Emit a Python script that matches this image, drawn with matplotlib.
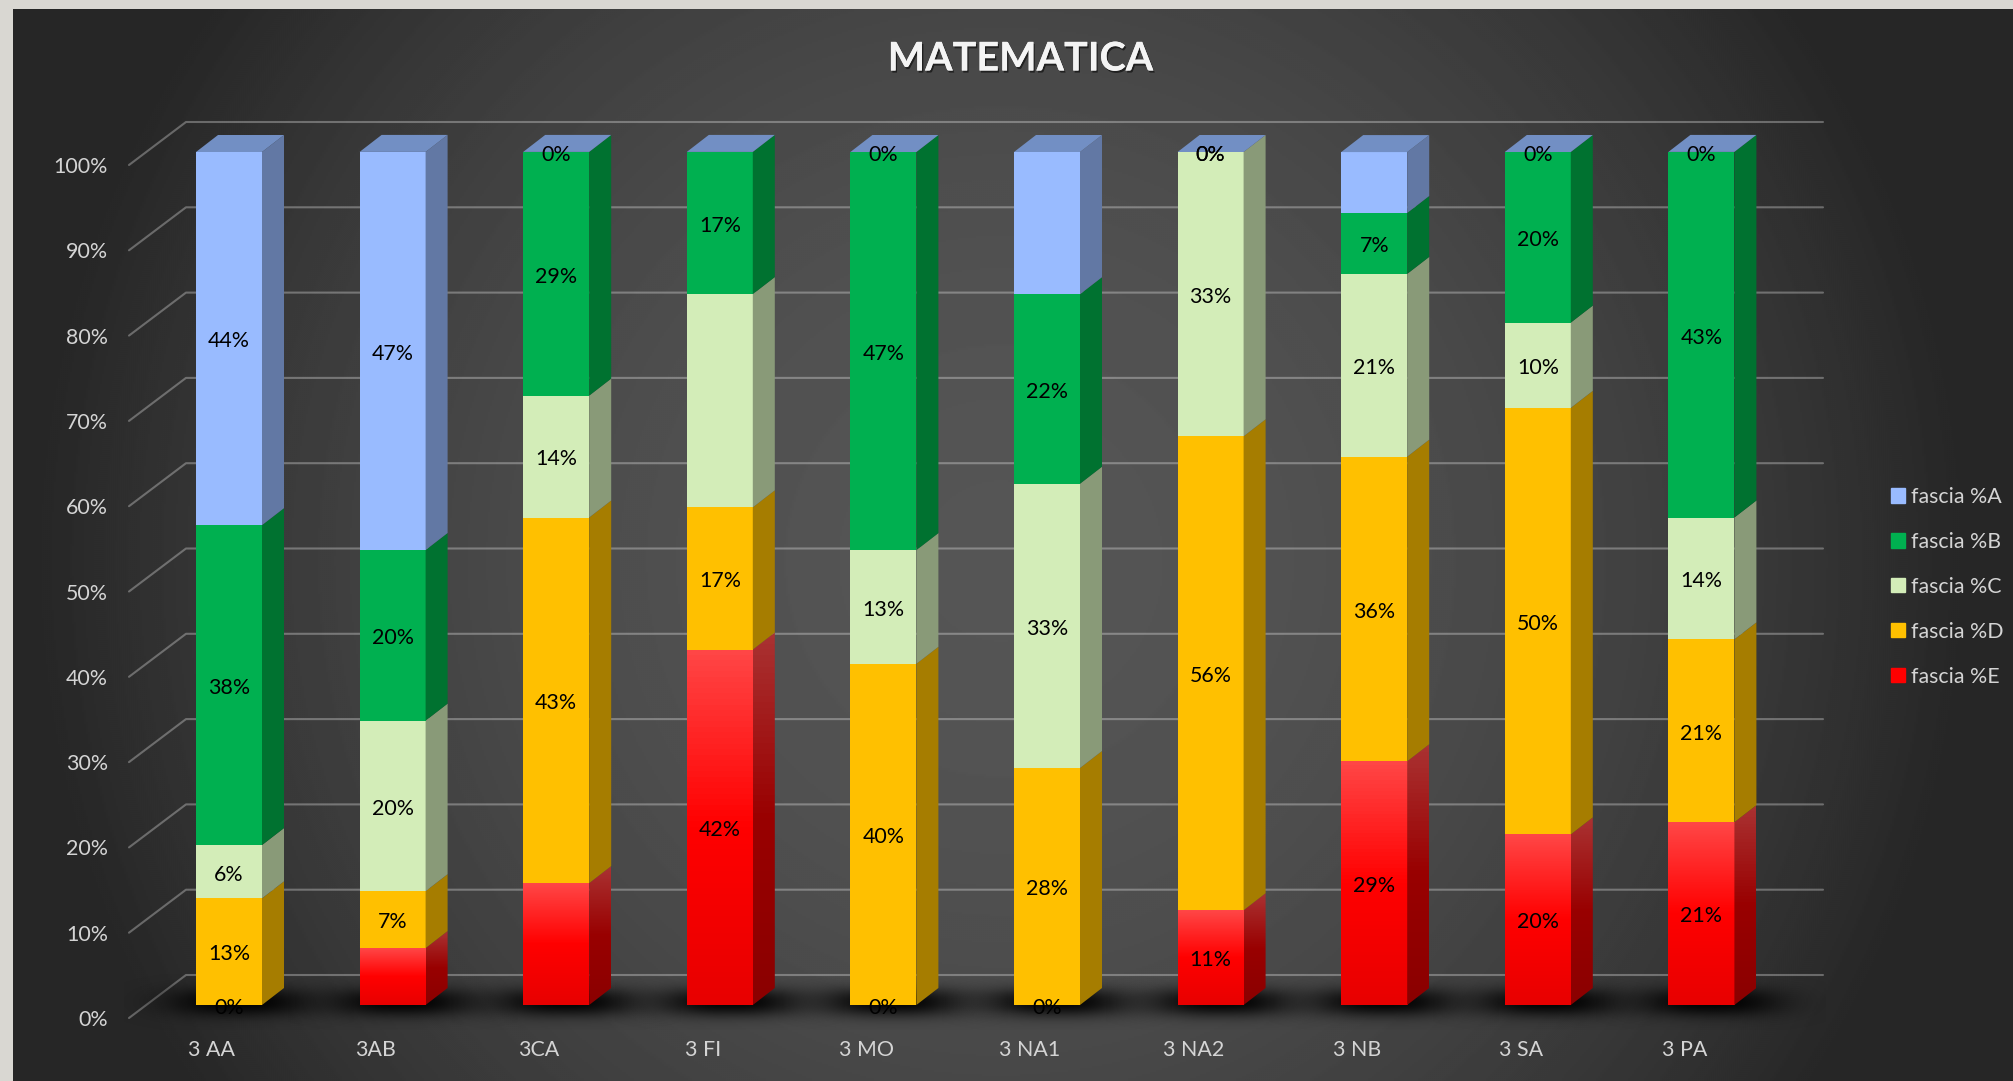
import numpy as np
import matplotlib
matplotlib.use("Agg")
import matplotlib.pyplot as plt
from matplotlib.patches import Patch, Polygon
from matplotlib.transforms import ScaledTranslation
import matplotlib.patheffects as pe

plt.rcParams['font.family'] = ['Lato', 'DejaVu Sans']

# ---------- data ----------
title = "MATEMATICA"
categories = ["3 AA", "3AB", "3CA", "3 FI", "3 MO", "3 NA1", "3 NA2", "3 NB", "3 SA", "3 PA"]
series_names = ["fascia %A", "fascia %B", "fascia %C", "fascia %D", "fascia %E"]
fascia_e = [0, 6.67, 14.29, 41.67, 0, 0, 11.11, 28.57, 20, 21.43]
fascia_d = [12.5, 6.67, 42.86, 16.67, 40, 27.78, 55.56, 35.71, 50, 21.43]
fascia_c = [6.25, 20, 14.29, 25, 13.33, 33.33, 33.33, 21.43, 10, 14.29]
fascia_b = [37.5, 20, 28.57, 16.67, 46.67, 22.22, 0, 7.14, 20, 42.86]
fascia_a = [43.75, 46.67, 0, 0, 0, 16.67, 0, 7.14, 0, 0]
# data labels as they are printed (None = the chart shows no label)
labels_e = ["0%", None, None, "42%", "0%", "0%", "11%", "29%", "20%", "21%"]
labels_d = ["13%", "7%", "43%", "17%", "40%", "28%", "56%", "36%", "50%", "21%"]
labels_c = ["6%", "20%", "14%", None, "13%", "33%", "33%", "21%", "10%", "14%"]
labels_b = ["38%", "20%", "29%", "17%", "47%", "22%", "0%", "7%", "20%", "43%"]
labels_a = ["44%", "47%", "0%", None, "0%", None, "0%", None, "0%", "0%"]
yticks = [0, 10, 20, 30, 40, 50, 60, 70, 80, 90, 100]

# ---------- style ----------
W, H = 2013, 1081
front = {"A": "#99bbff", "B": "#00b050", "C": "#d3edb8", "D": "#ffc000"}
side = {"A": "#6278a4", "B": "#007230", "C": "#899a78", "D": "#a67d00"}
top_col = "#728fc4"
txt_col = "#d4d4d4"
FS = 15.4

fig = plt.figure(figsize=(W / 100, H / 100), dpi=100, facecolor="#d9d7d2")


def rect(l, t, r, b):
    return [l / W, 1 - b / H, (r - l) / W, (b - t) / H]


# background panel
bg = fig.add_axes(rect(13, 9, W, H), zorder=0)
bg.axis("off")
yy, xx = np.mgrid[9:H:2, 13:W:2]
rr2 = ((xx - 1000) / 1000.0) ** 2 + ((yy - 560) / 1000.0) ** 2
val = np.clip(85 - 50 * rr2, 38, 85) / 255
bg.imshow(val, cmap="gray", vmin=0, vmax=1, aspect="auto", interpolation="bilinear")

# main axes: left/right = grid ends, bottom/top = front plane of 0 and 100 %
L, R, B, T = 129, 1823, 1005, 152
CX0, DX = 229, 163.6
PY = (B - T) / 100.0
ax = fig.add_axes(rect(L, T, R, B), zorder=1)
ax.patch.set_alpha(0)
for s in ax.spines.values():
    s.set_visible(False)
xmin, xmax = (L - CX0) / DX, (R - CX0) / DX
ax.set_xlim(xmin, xmax)
ax.set_ylim(0, 100)
x = np.arange(len(categories))
bw = 66 / DX
ddx, ddy = 22 / DX, 17 / PY

# walls grid
wx = 57 / DX
for v in yticks:
    ax.plot([xmin, xmin + wx, xmax], [v - 13 / PY, v + 30 / PY, v + 30 / PY], color="white",
            alpha=0.3, lw=1.5, clip_on=False, zorder=1, solid_capstyle="round",
            solid_joinstyle="round")

# floor shadows
for xi in x:
    sy, sx = np.mgrid[-1:1:80j, -1:1:240j]
    a = 0.95 * np.exp(-(np.abs(sx) / 0.62) ** 2.6 - (np.abs(sy) / 0.52) ** 2.2)
    rgba = np.zeros(a.shape + (4,))
    rgba[..., 3] = a
    ax.imshow(rgba, extent=[xi - 115 / DX + 10 / DX, xi + 115 / DX + 10 / DX, 0.3 - 28 / PY, 0.3 + 28 / PY],
              aspect="auto", zorder=2, clip_on=False, interpolation="bilinear")

ax.set_xlim(xmin, xmax)
ax.set_ylim(0, 100)

stack = [("E", fascia_e, labels_e), ("D", fascia_d, labels_d), ("C", fascia_c, labels_c),
         ("B", fascia_b, labels_b), ("A", fascia_a, labels_a)]

# gradient ramps for the red series (top -> bottom)
stops = np.array([0, .5, 1.0])
r_front = np.array([[255, 70, 70], [255, 0, 0], [232, 0, 0]]) / 255
r_side = np.array([[170, 50, 50], [153, 0, 0], [139, 0, 0]]) / 255


def ramp(cols, n=64):
    t = np.linspace(0, 1, n)
    return np.stack([np.interp(t, stops, cols[:, c]) for c in range(3)], axis=-1)[:, None, :]


LAB_DY = 2.8 / PY
bottoms = np.zeros(len(x))
for key, vals, labs in stack:
    vals = np.array(vals, float)
    if key == "E":
        bars = ax.bar(x, vals, bw, bottom=bottoms, color="none", zorder=4, clip_on=False)
        for xi, b0, v, bar in zip(x, bottoms, vals, bars):
            if v <= 0:
                continue
            ax.imshow(ramp(r_front), extent=[xi - bw / 2, xi + bw / 2, b0, b0 + v], aspect="auto",
                      zorder=4, clip_on=False)
            poly = Polygon([[xi + bw / 2, b0], [xi + bw / 2 + ddx, b0 + ddy],
                            [xi + bw / 2 + ddx, b0 + v + ddy], [xi + bw / 2, b0 + v]],
                           closed=True, transform=ax.transData, fc="none", ec="none")
            ax.add_patch(poly)
            im = ax.imshow(ramp(r_side), extent=[xi + bw / 2, xi + bw / 2 + ddx, b0, b0 + v + ddy],
                           aspect="auto", zorder=4, clip_on=True)
            im.set_clip_path(poly)
    else:
        ax.bar(x, vals, bw, bottom=bottoms, color=front[key], zorder=4, clip_on=False, lw=0)
        for xi, b0, v in zip(x, bottoms, vals):
            if v <= 0:
                continue
            ax.fill([xi + bw / 2, xi + bw / 2 + ddx, xi + bw / 2 + ddx, xi + bw / 2],
                    [b0, b0 + ddy, b0 + v + ddy, b0 + v], color=side[key], lw=0, zorder=4,
                    clip_on=False)
    for xi, b0, v, lab in zip(x, bottoms, vals, labs):
        if lab is not None:
            ax.text(xi, b0 + v / 2 - LAB_DY, lab, ha="center", va="center", color="black",
                    fontsize=FS, zorder=8, clip_on=False)
    bottoms = bottoms + vals

ax.set_xlim(xmin, xmax)
ax.set_ylim(0, 100)

# top faces
for xi, b in zip(x, bottoms):
    ax.fill([xi - bw / 2, xi + bw / 2, xi + bw / 2 + ddx, xi - bw / 2 + ddx],
            [b, b, b + ddy, b + ddy], color=top_col, lw=0, zorder=4, clip_on=False)

# axes labels
ax.set_yticks(yticks)
ax.set_yticklabels([f"{v}%" for v in yticks], fontsize=FS, color=txt_col)
ax.set_xticks(x)
ax.set_xticklabels(categories, fontsize=FS, color=txt_col)
ax.tick_params(axis="both", length=0)
ax.tick_params(axis="y", pad=15.0)
ax.tick_params(axis="x", pad=25.5)
off_y = ScaledTranslation(0, -13 / 100, fig.dpi_scale_trans)
off_x = ScaledTranslation(-17 / 100, 0, fig.dpi_scale_trans)
for t in ax.get_yticklabels():
    t.set_transform(t.get_transform() + off_y)
for t in ax.get_xticklabels():
    t.set_transform(t.get_transform() + off_x)

# legend
handles = [Patch(color=front["A"]), Patch(color=front["B"]), Patch(color=front["C"]),
           Patch(color=front["D"]), Patch(color="#ff0000")]
fs_px = FS * 100 / 72
leg = ax.legend(handles, series_names, frameon=False, fontsize=FS, labelcolor=txt_col,
                loc="upper left", bbox_to_anchor=(1891 / W, 1 - 487 / H),
                bbox_transform=fig.transFigure, borderaxespad=0, borderpad=0,
                handlelength=14 / fs_px, handleheight=14 / fs_px, handletextpad=6 / fs_px,
                labelspacing=(45 - fs_px + 1.3) / fs_px)
leg.set_zorder(9)

# title
fig.text(1021 / W, 1 - 59 / H, title, ha="center", va="center", fontsize=28.5, fontweight="bold",
         color="#f4f4f4", zorder=5,
         path_effects=[pe.withSimplePatchShadow(offset=(1, -1.5), shadow_rgbFace="black", alpha=0.55),
                       pe.Normal()])

fig.savefig("out.png", dpi=100, facecolor=fig.get_facecolor())
